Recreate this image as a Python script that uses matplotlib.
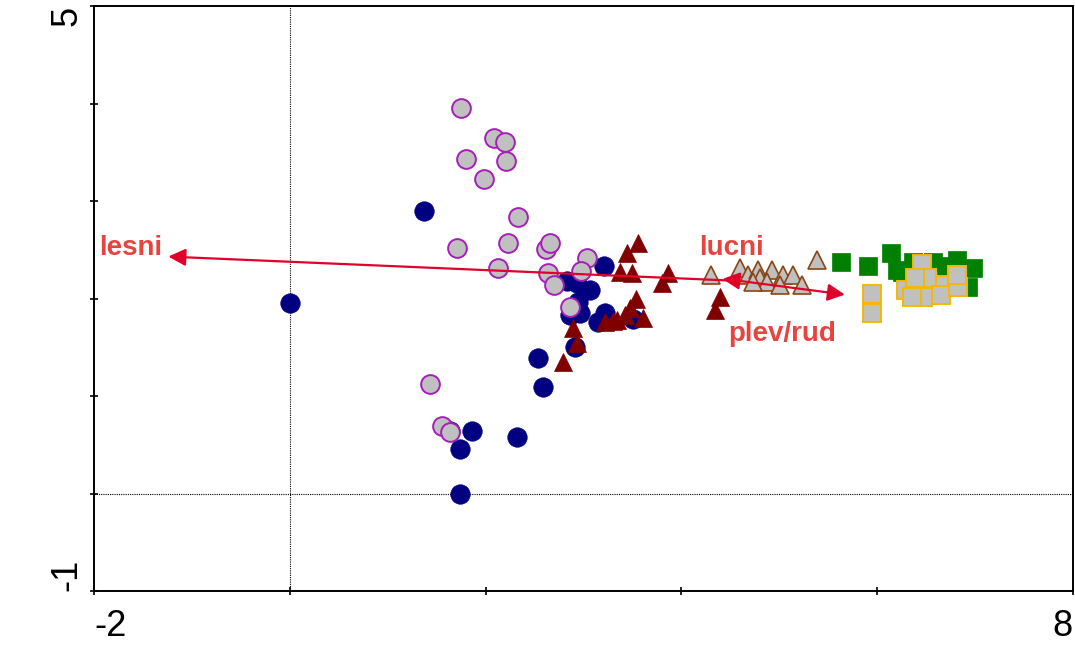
import matplotlib
matplotlib.use("Agg")
import matplotlib.pyplot as plt

plt.rcParams["font.family"] = ["Liberation Sans", "DejaVu Sans"]

# sample scores
navy_x = [0.0, 1.37, 1.74, 1.74, 1.64, 1.86, 2.32, 2.54, 2.59, 2.91,
          2.83, 2.93, 3.07, 3.21, 2.94, 2.96, 3.22, 3.15, 3.51, 2.86]
navy_y = [1.95, 2.90, 0.0, 0.46, 0.64, 0.64, 0.58, 1.39, 1.09, 1.50,
          2.18, 2.16, 2.09, 2.33, 1.96, 1.85, 1.85, 1.76, 1.79, 1.83]

grey_circ_x = [1.75, 2.09, 2.20, 1.80, 2.21, 1.98, 2.33, 1.71, 2.23, 2.62,
               2.66, 2.13, 3.04, 2.64, 2.97, 2.70, 2.86, 1.43, 1.56, 1.64]
grey_circ_y = [3.95, 3.65, 3.61, 3.43, 3.41, 3.23, 2.84, 2.52, 2.57, 2.51,
               2.57, 2.31, 2.42, 2.26, 2.28, 2.14, 1.91, 1.12, 0.69, 0.63]

red_tri_x = [3.56, 3.44, 3.37, 3.50, 3.86, 3.80, 4.39, 4.34, 3.54, 3.48,
             3.61, 3.22, 3.34, 3.42, 3.30, 2.89, 2.93, 2.79]
red_tri_y = [2.57, 2.47, 2.27, 2.26, 2.26, 2.16, 2.02, 1.88, 1.99, 1.90,
             1.80, 1.76, 1.78, 1.83, 1.77, 1.70, 1.54, 1.35]

grey_tri_x = [4.30, 4.60, 4.68, 4.78, 4.93, 4.80, 4.87, 5.04, 5.14, 5.01,
              5.23, 4.73, 5.39]
grey_tri_y = [2.24, 2.31, 2.24, 2.29, 2.29, 2.21, 2.17, 2.24, 2.24, 2.14,
              2.14, 2.17, 2.40]

green_sq_x = [5.63, 5.91, 6.14, 6.20, 6.37, 6.57, 6.82, 6.98, 6.93, 6.25,
              6.45, 6.70]
green_sq_y = [2.37, 2.33, 2.47, 2.29, 2.37, 2.37, 2.40, 2.31, 2.12, 2.27,
              2.29, 2.33]

grey_sq_x = [5.95, 5.95, 6.29, 6.46, 6.51, 6.47, 6.69, 6.65, 6.83, 6.82,
             6.39, 6.36]
grey_sq_y = [2.05, 1.85, 2.09, 2.35, 2.21, 2.02, 2.14, 2.04, 2.12, 2.24,
             2.21, 2.02]

# supplementary variables
arrow_origin = (4.60, 2.18)
arrow_names = ["lesni", "lucni", "plev/rud"]
arrow_x = [-1.24, 4.42, 5.67]
arrow_y = [2.43, 2.20, 2.04]
label_x = [-1.62, 4.51, 5.03]
label_y = [2.52, 2.52, 1.64]

fig = plt.figure(figsize=(10.75, 6.45), dpi=100)
ax = fig.add_axes([0.0874, 0.0837, 0.9107, 0.907])

ax.axvline(0, color="black", lw=0.8, ls=(0, (1, 1)), zorder=1)
ax.axhline(0, color="black", lw=0.8, ls=(0, (1, 1)), zorder=1)

ax.plot(navy_x, navy_y, "o", ms=14, mfc="#000080", mec="#000080", mew=0.5, ls="none", zorder=3)
ax.plot(grey_circ_x, grey_circ_y, "o", ms=13.5, mfc="#C0C0C0", mec="#A61EB8", mew=1.4, ls="none", zorder=4)
ax.plot(red_tri_x, red_tri_y, "^", ms=12.5, mfc="#800000", mec="#800000", mew=0.5, ls="none", zorder=5)
ax.plot(grey_tri_x, grey_tri_y, "^", ms=12.5, mfc="#C0C0C0", mec="#8B4513", mew=1.2, ls="none", zorder=5)
ax.plot(green_sq_x, green_sq_y, "s", ms=13.5, mfc="#008000", mec="#008000", mew=0.5, ls="none", zorder=6)
ax.plot(grey_sq_x, grey_sq_y, "s", ms=13.5, mfc="#C0C0C0", mec="#F5B800", mew=1.4, ls="none", zorder=7)

for name, hx, hy, tx, ty in zip(arrow_names, arrow_x, arrow_y, label_x, label_y):
    ax.annotate("", xy=(hx, hy), xytext=arrow_origin,
                arrowprops=dict(arrowstyle="-|>", color="#E0002A", lw=1.6,
                                mutation_scale=26, shrinkA=0, shrinkB=0),
                zorder=8)
    ax.text(tx, ty, name, color="#E8443F", fontsize=20, fontweight="bold",
            ha="center", va="center", zorder=9)

ax.set_xlim(-2, 8)
ax.set_ylim(-1, 5)
ax.set_xticks([-2, 0, 2, 4, 6, 8], ["-2", "", "", "", "", "8"])
ax.set_yticks([-1, 0, 1, 2, 3, 4, 5], ["-1", "", "", "", "", "", "5"])
ax.tick_params(direction="inout", length=6, width=1.2, labelsize=26)
ax.tick_params(axis="x", pad=10)
ax.tick_params(axis="y", pad=4)

xl = ax.get_xticklabels()
xl[0].set_ha("left")
xl[-1].set_ha("right")
for lab, va in zip(ax.get_yticklabels(), ["bottom"] + [""] * 5 + ["top"]):
    lab.set_rotation(90)
    if va:
        lab.set_va(va)
    lab.set_ha("right")

for sp in ax.spines.values():
    sp.set_linewidth(1.4)

fig.savefig("out.png", dpi=100)
